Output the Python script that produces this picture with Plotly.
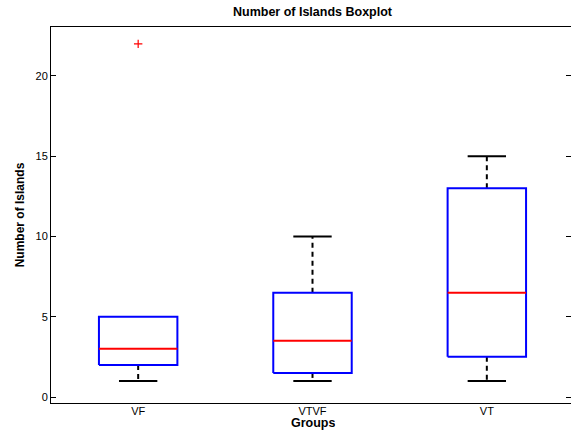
import plotly.graph_objects as go

groups = ["VF", "VTVF", "VT"]
q1 = [2, 1.5, 2.5]
median = [3, 3.5, 6.5]
q3 = [5, 6.5, 13]
whisker_low = [1, 1, 1]
whisker_high = [5, 10, 15]
outlier_group = [1]
outlier_value = [22]

box_half = 0.225
cap_half = 0.11

fig = go.Figure()
# whiskers and caps first
for i, g in enumerate(groups):
    x = i + 1
    fig.add_trace(go.Scatter(x=[x, x, None, x, x], y=[q3[i], whisker_high[i], None, q1[i], whisker_low[i]],
                             mode="lines", line=dict(color="black", width=2, dash="5px,4px"),
                             hoverinfo="skip", showlegend=False))
    cx, cy = [], []
    for w, edge in ((whisker_high[i], q3[i]), (whisker_low[i], q1[i])):
        if w != edge:
            cx += [x - cap_half, x + cap_half, None]
            cy += [w, w, None]
    fig.add_trace(go.Scatter(x=cx, y=cy, mode="lines", line=dict(color="black", width=2),
                             hoverinfo="skip", showlegend=False))
# boxes and medians on top
for i, g in enumerate(groups):
    x = i + 1
    fig.add_trace(go.Scatter(x=[x - box_half, x + box_half, x + box_half, x - box_half, x - box_half],
                             y=[q1[i], q1[i], q3[i], q3[i], q1[i]],
                             mode="lines", line=dict(color="#0000ff", width=2),
                             hoverinfo="skip", showlegend=False))
    fig.add_trace(go.Scatter(x=[x - box_half, x + box_half], y=[median[i], median[i]],
                             mode="lines", line=dict(color="#ff0000", width=2),
                             hoverinfo="skip", showlegend=False))

fig.add_trace(go.Scatter(x=outlier_group, y=outlier_value, mode="markers",
                         marker=dict(symbol="cross-thin", size=6, line=dict(color="#ff0000", width=1.2)),
                         hoverinfo="skip", showlegend=False))
# invisible trace for right-side mirrored ticks
fig.add_trace(go.Scatter(x=[1], y=[0], yaxis="y2", mode="markers", marker=dict(opacity=0),
                         hoverinfo="skip", showlegend=False))

yr = [-0.374, 23.05]
font = dict(family="Liberation Sans, Arial, Helvetica, sans-serif", size=11, color="black")
plot_h = 432 - 27 - 29
fig.update_layout(
    width=571, height=432,
    margin=dict(l=51, r=0, t=27, b=29),
    paper_bgcolor="white", plot_bgcolor="white",
    font=font,
    title=dict(text="<b>Number of Islands Boxplot</b>", x=(51 + 574) / 2 / 571, xanchor="center",
               y=1 - 12 / 432, yanchor="middle", font=dict(size=12.5, color="black")),
    xaxis=dict(range=[0.5, 3.5 - 3 / 174.5], tickvals=[1, 2, 3], ticktext=groups,
               showgrid=False, zeroline=False, showline=True, linecolor="black", linewidth=1,
               mirror=True, ticks="", tickfont=dict(size=11), ticklabelstandoff=-2),
    yaxis=dict(range=yr, tickvals=[0, 5, 10, 15, 20], showgrid=False, zeroline=False,
               showline=True, linecolor="black", linewidth=1, ticks="inside", ticklen=5,
               tickcolor="black", tickfont=dict(size=11),
               title=dict(text="<b>Number of Islands</b>", standoff=8, font=dict(size=12))),
    yaxis2=dict(range=yr, overlaying="y", side="right", tickvals=[0, 5, 10, 15, 20],
                showticklabels=False, ticks="inside", ticklen=5, tickcolor="black",
                showgrid=False, zeroline=False, showline=False),
    annotations=[dict(text="<b>Groups</b>", xref="paper", yref="paper",
                      x=(312.5 - 51) / (571 - 51), y=-29 / plot_h, xanchor="center", yanchor="bottom",
                      height=14, valign="middle",
                      showarrow=False, font=dict(size=12.5, color="black"))],
)

fig.write_html("out.html")
